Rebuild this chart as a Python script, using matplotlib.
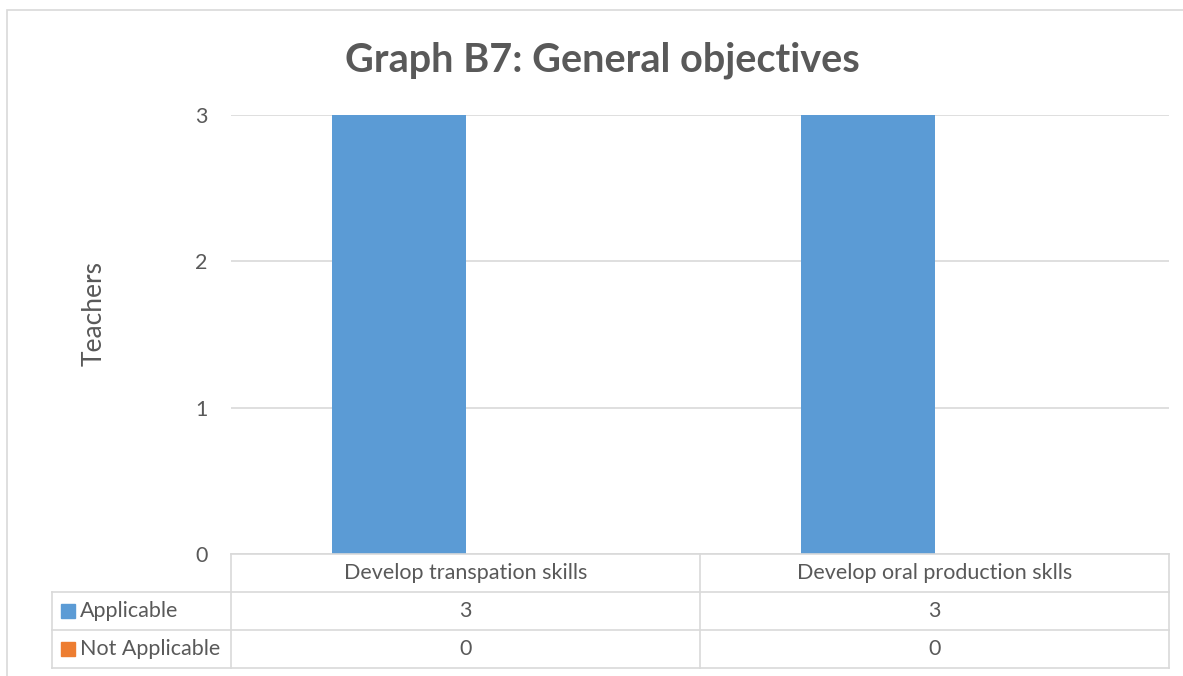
import matplotlib as mplt
mplt.use("Agg")
import matplotlib.pyplot as plt
from matplotlib.patches import Rectangle

# data
categories = ['Develop transpation skills', 'Develop oral production sklls']
series_names = ['Applicable', 'Not Applicable']
applicable = [3, 3]
not_applicable = [0, 0]
yticks = [0, 1, 2, 3]

blue = '#5B9BD5'
orange = '#ED7D31'
grid = '#D9D9D9'
txt = '#595959'

plt.rcParams['font.family'] = ['Lato', 'DejaVu Sans']

W, H = 1183, 676
fig = plt.figure(figsize=(W / 100, H / 100), dpi=100)

def fx(px):
    return px / W

def fy(py):
    return 1 - py / H

# outer chart border
fig.patches.append(Rectangle((fx(7), fy(H + 5)), fx(W), fy(10) - fy(H + 5),
                             transform=fig.transFigure, fill=False,
                             edgecolor=grid, linewidth=1.2))

# main axes
x0, x1, ytop, ybot = 231, 1169, 115, 554
ax = fig.add_axes([fx(x0), fy(ybot), fx(x1 - x0), fy(ytop) - fy(ybot)])
n = len(categories)
xs = list(range(n))
bw = 0.284
ax.bar([x - bw / 2 for x in xs], applicable, width=bw, color=blue, zorder=3)
ax.bar([x + bw / 2 for x in xs], not_applicable, width=bw, color=orange, zorder=3)
ax.set_xlim(-0.5, n - 0.5)
ax.set_ylim(0, 3)
ax.set_yticks(yticks)
ax.set_yticklabels([str(v) for v in yticks], fontsize=15.5, color=txt)
ax.tick_params(axis='y', length=0, pad=17)
ax.set_xticks([])
for s in ax.spines.values():
    s.set_visible(False)
ax.yaxis.grid(True, color=grid, linewidth=1.2, zorder=0)
ax.set_axisbelow(True)

fig.text(fx(94), fy(313), 'Teachers', rotation=90, ha='center', va='center',
         fontsize=19, color=txt)
fig.text(fx(602), fy(60), 'Graph B7: General objectives', ha='center', va='center',
         fontsize=28.5, fontweight='bold', color=txt)

# data table
unit = (x1 - x0) / n
left_w = (x0 - 52) / unit
tb = fig.add_axes([fx(52), fy(668), fx(x1 - 52), fy(554) - fy(668)])
tb.set_xlim(-0.5 - left_w, n - 0.5)
tb.set_ylim(3, 0)
tb.axis('off')
lw = 1.2
# horizontal lines
tb.plot([-0.5, n - 0.5], [0, 0], color=grid, lw=lw, clip_on=False)
for r in [1, 2, 3]:
    tb.plot([-0.5 - left_w, n - 0.5], [r, r], color=grid, lw=lw, clip_on=False)
# vertical lines
tb.plot([-0.5 - left_w] * 2, [1, 3], color=grid, lw=lw, clip_on=False)
for i in range(n + 1):
    tb.plot([i - 0.5] * 2, [0, 3], color=grid, lw=lw, clip_on=False)
# header
for i, c in enumerate(categories):
    tb.text(i, 0.5, c, ha='center', va='center', fontsize=15.5, color=txt)
# rows
rows = [applicable, not_applicable]
colors = [blue, orange]
for r, (name, vals, col) in enumerate(zip(series_names, rows, colors)):
    yc = r + 1.5
    tb.add_patch(Rectangle((-0.5 - left_w + 9 / unit, yc - 0.19), 14 / unit, 0.38,
                           color=col, clip_on=False))
    tb.text(-0.5 - left_w + 28 / unit, yc, name, ha='left', va='center',
            fontsize=15.5, color=txt)
    for i, v in enumerate(vals):
        tb.text(i, yc, str(v), ha='center', va='center', fontsize=15.5, color=txt)

fig.savefig('out.png', dpi=100)
plt.close('all')
